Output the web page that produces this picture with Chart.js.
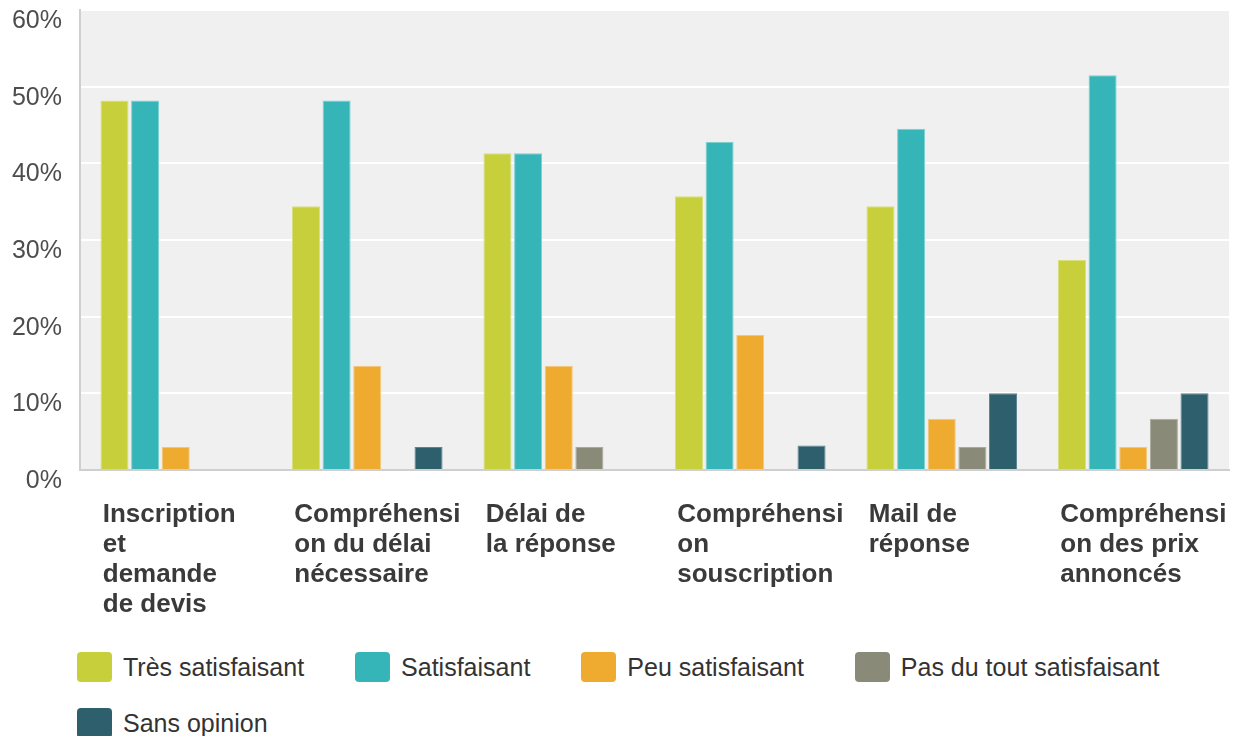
<!DOCTYPE html>
<html lang="fr">
<head>
<meta charset="utf-8">
<title>Satisfaction</title>
<script src="https://cdn.jsdelivr.net/npm/chart.js@4.4.1/dist/chart.umd.min.js"></script>
<style>
    html, body { margin: 0; padding: 0; background: #ffffff; }
    body { width: 1246px; height: 736px; position: relative; overflow: hidden; font-family: "Liberation Sans", Arial, sans-serif; }
    #zone-graphique { position: absolute; left: 0; top: 0; width: 1246px; height: 640px; }
    #legende {
        position: absolute; left: 77px; top: 652px; width: 1110px;
        display: flex; flex-wrap: wrap; column-gap: 51px; row-gap: 26px;
        list-style: none; margin: 0; padding: 0;
    }
    #legende li { display: flex; align-items: center; height: 30px; font-size: 25px; color: #333; }
    #legende .pastille { width: 35px; height: 30px; border-radius: 4px; margin-right: 11px; }
</style>
</head>
<body>
<div id="zone-graphique"><canvas id="graphiqueSatisfaction"></canvas></div>
<ul id="legende"></ul>

<script>
// Rubriques de l'enquête (une étiquette sur plusieurs lignes)
const categories = [
    ['Inscription', 'et', 'demande', 'de devis'],
    ['Compréhensi', 'on du délai', 'nécessaire'],
    ['Délai de', 'la réponse'],
    ['Compréhensi', 'on', 'souscription'],
    ['Mail de', 'réponse'],
    ['Compréhensi', 'on des prix', 'annoncés']
];

// Réponses en % par rubrique
const tresSatisfaisant = [48.2, 34.4, 41.3, 35.7, 34.4, 27.4];
const satisfaisant     = [48.2, 48.2, 41.3, 42.8, 44.5, 51.5];
const peuSatisfaisant  = [3.0, 13.6, 13.6, 17.6, 6.7, 3.0];
const pasDuTout        = [0, 0, 3.0, 0, 3.0, 6.7];
const sansOpinion      = [0, 3.0, 0, 3.2, 10, 10];

const nomsSeries = ['Très satisfaisant', 'Satisfaisant', 'Peu satisfaisant', 'Pas du tout satisfaisant', 'Sans opinion'];
const couleurs = ['#c7cf3b', '#35b5b7', '#eeab30', '#8a8a79', '#2d5f6d'];
const bordures = ['#d9de7e', '#7dd0d1', '#f4c778', '#a9a99c', '#5d8490'];

// Graduations de l'axe vertical
const echelleMax = 60;
const pasEchelle = 10;

const valeurs = [tresSatisfaisant, satisfaisant, peuSatisfaisant, pasDuTout, sansOpinion];

// Fond gris de la zone de tracé
const fondZone = {
    id: 'fondZone',
    beforeDraw(chart) {
        const { ctx, chartArea: a } = chart;
        ctx.save();
        ctx.fillStyle = '#f0f0f0';
        ctx.fillRect(a.left, a.top, a.right - a.left, a.bottom - a.top);
        ctx.restore();
    }
};

new Chart(document.getElementById('graphiqueSatisfaction'), {
    type: 'bar',
    data: {
        labels: categories,
        datasets: valeurs.map((serie, i) => ({
            label: nomsSeries[i],
            data: serie,
            backgroundColor: couleurs[i],
            borderColor: bordures[i],
            borderWidth: 1,
            categoryPercentage: 0.8,
            barPercentage: 0.915
        }))
    },
    options: {
        responsive: true,
        maintainAspectRatio: false,
        animation: false,
        layout: { padding: { top: 10, right: 17, left: 0, bottom: 0 } },
        plugins: {
            legend: { display: false },
            tooltip: { enabled: false }
        },
        scales: {
            x: {
                grid: { display: false, drawTicks: false },
                border: { color: '#cfcfcf', width: 2 },
                // hauteur fixe, et pas de marge ajoutée pour la dernière étiquette
                afterFit: s => { s.height = 170; s.paddingLeft = 0; s.paddingRight = 0; },
                ticks: {
                    align: 'start',
                    labelOffset: -73,
                    padding: 30,
                    maxRotation: 0,
                    autoSkip: false,
                    color: '#3a3a3a',
                    font: { family: '"Liberation Sans", Arial, sans-serif', size: 26, weight: 'bold', lineHeight: 1.15 }
                }
            },
            y: {
                min: 0,
                max: echelleMax,
                afterFit: s => { s.width = 80; s.paddingTop = 0; s.paddingBottom = 0; },
                grid: { color: '#ffffff', lineWidth: 2, drawTicks: false },
                border: { color: '#cfcfcf', width: 2 },
                ticks: {
                    stepSize: pasEchelle,
                    padding: 18,
                    labelOffset: 11,
                    color: '#4d4d4d',
                    font: { family: '"Liberation Sans", Arial, sans-serif', size: 25 },
                    callback: v => v + '%'
                }
            }
        }
    },
    plugins: [fondZone]
});

// Légende construite à partir des séries
const legende = document.getElementById('legende');
nomsSeries.forEach((nom, i) => {
    const li = document.createElement('li');
    li.innerHTML = `<span class="pastille" style="background:${couleurs[i]}"></span>${nom}`;
    legende.appendChild(li);
});
</script>
</body>
</html>
